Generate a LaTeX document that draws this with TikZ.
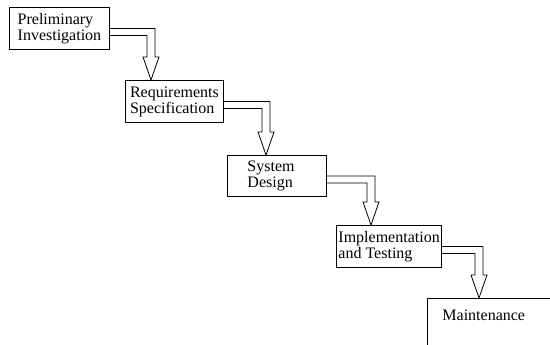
\documentclass[tikz,border=0pt]{standalone}
\usepackage{fontspec}
\setmainfont{Liberation Serif}
\usetikzlibrary{calc}
% hollow bent arrow: from box, to box, offset of the tip from the target's left side
\newcommand{\stagearrow}[3]{%
  \draw[flow] let \p1=(#1.east), \p2=(#2.north west) in
    (\x1,\y1) -- (\x2+#3pt+4pt,\y1) -- (\x2+#3pt+4pt,\y2+23pt)
    -- (\x2+#3pt+8pt,\y2+23pt) -- (\x2+#3pt,\y2) -- (\x2+#3pt-8pt,\y2+23pt)
    -- (\x2+#3pt-4pt,\y2+23pt) -- (\x2+#3pt-4pt,\y1-7pt) -- (\x1,\y1-7pt);}

\begin{document}
\begin{tikzpicture}[
  x=1pt,y=-1pt,
  box/.style={draw,line width=0.9pt,align=left,anchor=north west,minimum width=99pt,minimum height=42pt,inner xsep=2pt,font=\fontsize{16}{16}\selectfont},
  flow/.style={line width=0.8pt,line join=miter}
]
\useasboundingbox (0,0) rectangle (550,345);
\node[box,minimum width=100pt] (prelim) at (9,7) {Preliminary\\Investigation};
\node[box,minimum width=98pt] (reqspec) at (125,80) {Requirements\\Specification};
\node[box,text width=59pt,inner xsep=20pt,minimum height=41pt] (sysdesign) at (227,155) {System\\Design};
\node[box] (impltest) at (336,225) {Implementation\\and Testing};
\node[box,inner xsep=15pt,inner ysep=4pt,text width=110pt,text height=18pt,text depth=40pt] (maint) at (427,298) {Maintenance};
\stagearrow{prelim}{reqspec}{26}
\stagearrow{reqspec}{sysdesign}{39}
\stagearrow{sysdesign}{impltest}{35}
\stagearrow{impltest}{maint}{52}
\end{tikzpicture}
\end{document}
